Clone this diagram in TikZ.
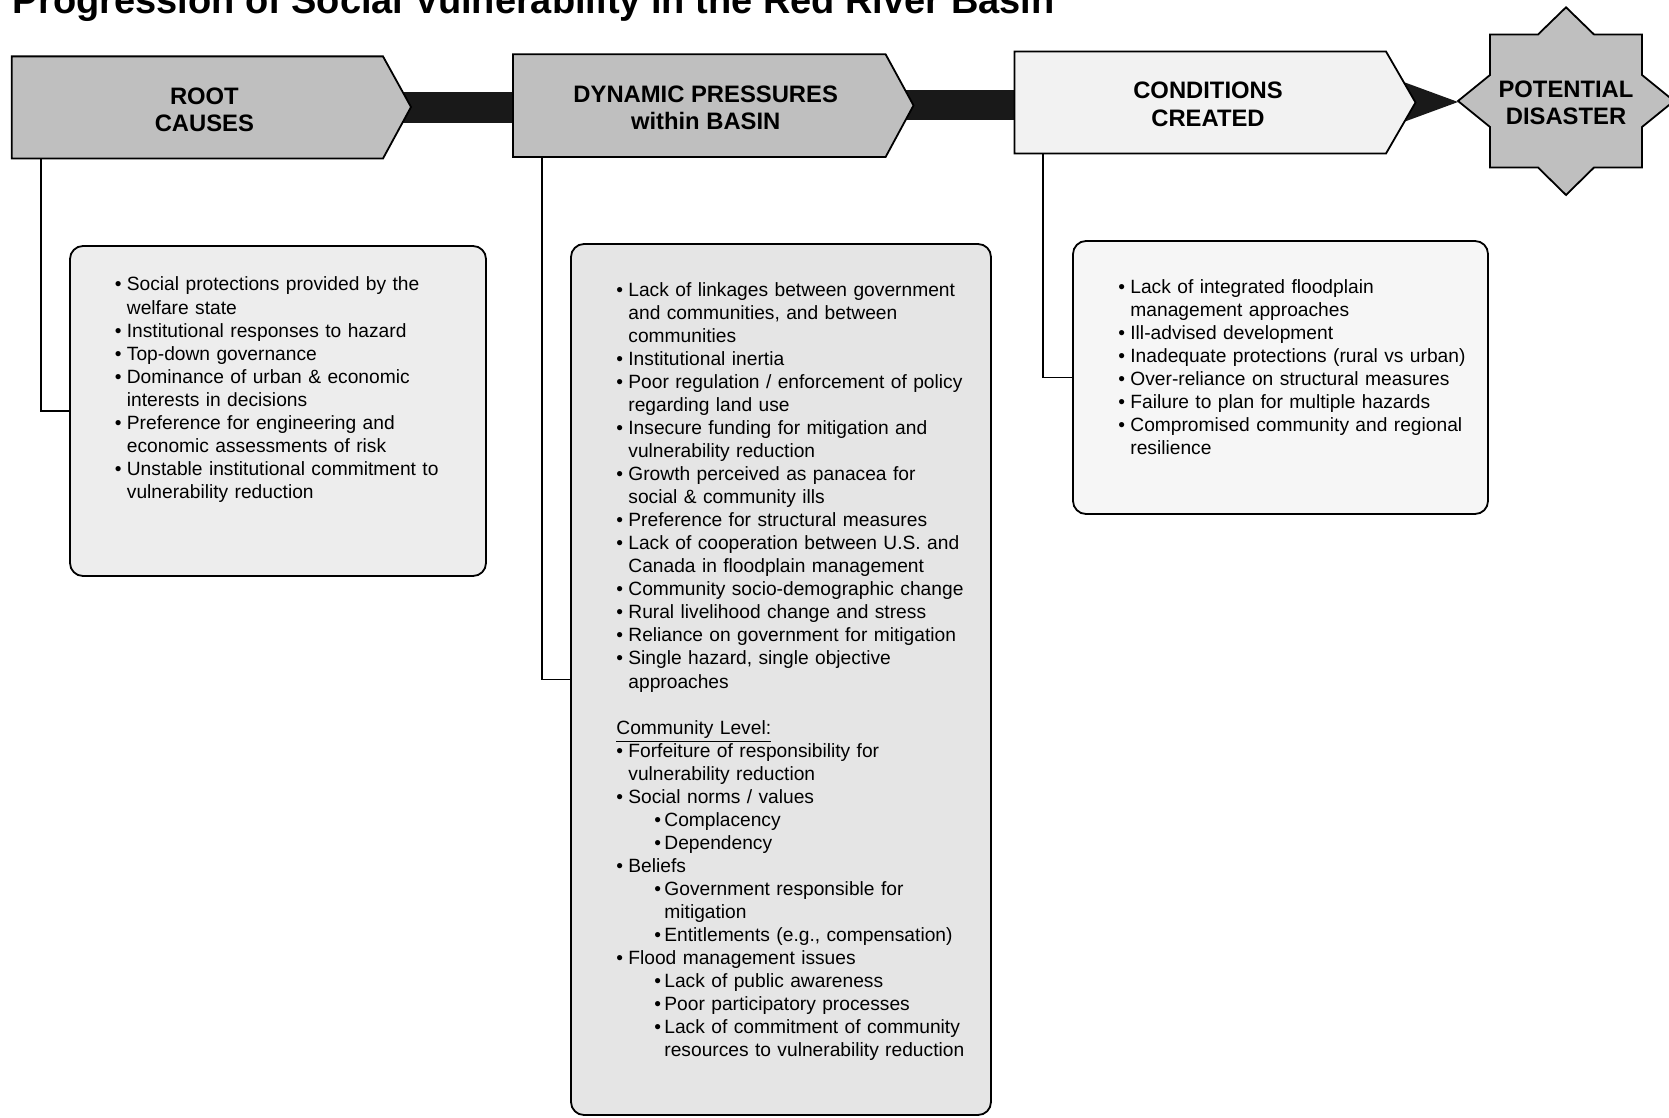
\documentclass[tikz,border=0pt]{standalone}
\usepackage{fontspec}
\setmainfont{Liberation Sans}
\usetikzlibrary{fit}

\definecolor{headgray}{gray}{0.75}
\definecolor{headlight}{gray}{0.95}
\definecolor{barblack}{gray}{0.1}
\definecolor{rootfill}{gray}{0.93}
\definecolor{dynfill}{gray}{0.9}
\definecolor{condfill}{gray}{0.965}

\newcommand{\bul}[1]{\noindent\hangindent=6pt\hangafter=1\makebox[6pt][l]{\textbullet}#1\par}
\newcommand{\subbul}[1]{\noindent\hangindent=24pt\hangafter=1\hspace*{19pt}\makebox[5pt][l]{\textbullet}#1\par}

\tikzset{
  headshape/.style={draw=black, line width=0.9pt, fill=headgray},
  headtext/.style={font=\bfseries\fontsize{11.9}{13.8}\selectfont, align=center, inner sep=0pt},
  infobox/.style={draw=black, line width=0.9pt, rounded corners=6.5pt, inner sep=0pt},
  listtext/.style={font=\fontsize{9.6}{11.53}\selectfont, text width=200pt, align=left, inner sep=0pt, anchor=base west},
  link/.style={line width=0.7pt}
}

\begin{document}
\begin{tikzpicture}[x=0.5pt, y=-0.5pt]
\useasboundingbox (0,0) rectangle (1669,1118);
\fill[white] (0,0) rectangle (1669,1118);

% title
\node[anchor=base west, inner sep=0pt, font=\bfseries\fontsize{19}{22}\selectfont] (title) at (12.5,13.5) {Progression of Social Vulnerability in the Red River Basin};

% dark bars between the headings
\fill[barblack] (383,92.5) rectangle (513,123);
\fill[barblack] (885,90.5) rectangle (1015,120.5);
\fill[barblack] (1390,77) -- (1458,102) -- (1390,127) -- cycle;

% heading arrows
\draw[headshape] (11.7,56.4) -- (383,56.4) -- (411,107) -- (383,158.5) -- (11.7,158.5) -- cycle;
\draw[headshape] (513,54.3) -- (885.6,54.3) -- (913.5,105.4) -- (885.6,157) -- (513,157) -- cycle;
\draw[headshape, fill=headlight] (1014.4,51.5) -- (1386,51.5) -- (1415.5,102.5) -- (1386,153.5) -- (1014.4,153.5) -- cycle;
\coordinate (rootdrop) at (41,158.5);
\coordinate (dyndrop) at (542,157);
\coordinate (conddrop) at (1043,153.5);

\node[headtext] (roottxt) at (204.4,110) {ROOT\\CAUSES};
\node[headtext] (dyntxt) at (705.7,108) {DYNAMIC PRESSURES\\within BASIN};
\node[headtext] (condtxt) at (1208,104.5) {CONDITIONS\\CREATED};

% star
\begin{scope}[shift={(1566,101)}]
  \draw[headshape] (0,-93.7) -- (28,-66.5) -- (76,-66.5) -- (76,-26) -- (108,0) -- (76,26) -- (76,66.5) -- (28,66.5) -- (0,94)
    -- (-28,66.5) -- (-76,66.5) -- (-76,26) -- (-108,0) -- (-76,-26) -- (-76,-66.5) -- (-28,-66.5) -- cycle;
\end{scope}
\node[headtext] (disaster) at (1566,103) {POTENTIAL\\DISASTER};

% boxes
\node[infobox, fill=rootfill, fit={(70,246) (486,576)}] (rootbox) {};
\node[infobox, fill=dynfill, fit={(571,244) (991,1115)}] (dynbox) {};
\node[infobox, fill=condfill, fit={(1073,241) (1488,514)}] (condbox) {};

\draw[link] (rootdrop) |- (rootbox.west);
\draw[link] (dyndrop) |- (dynbox.west);
\draw[link] (conddrop) |- (condbox.west);

\node[listtext] (rootlist) at (114.5,291) {%
\bul{Social protections provided by the\newline welfare state}
\bul{Institutional responses to hazard}
\bul{Top-down governance}
\bul{Dominance of urban \& economic\newline interests in decisions}
\bul{Preference for engineering and\newline economic assessments of risk}
\bul{Unstable institutional commitment to\newline vulnerability reduction}};

\node[listtext] (dynlist) at (616,296) {%
\bul{Lack of linkages between government\newline and communities, and between\newline communities}
\bul{Institutional inertia}
\bul{Poor regulation / enforcement of policy\newline regarding land use}
\bul{Insecure funding for mitigation and\newline vulnerability reduction}
\bul{Growth perceived as panacea for\newline social \& community ills}
\bul{Preference for structural measures}
\bul{Lack of cooperation between U.S. and\newline Canada in floodplain management}
\bul{Community socio-demographic change}
\bul{Rural livelihood change and stress}
\bul{Reliance on government for mitigation}
\bul{Single hazard, single objective\newline approaches}
\vspace{\baselineskip}
\noindent\underline{Community Level:}\par
\bul{Forfeiture of responsibility for\newline vulnerability reduction}
\bul{Social norms / values}
\subbul{Complacency}
\subbul{Dependency}
\bul{Beliefs}
\subbul{Government responsible for\newline mitigation}
\subbul{Entitlements (e.g., compensation)}
\bul{Flood management issues}
\subbul{Lack of public awareness}
\subbul{Poor participatory processes}
\subbul{Lack of commitment of community\newline resources to vulnerability reduction}};

\node[listtext] (condlist) at (1118,293) {%
\bul{Lack of integrated floodplain\newline management approaches}
\bul{Ill-advised development}
\bul{Inadequate protections (rural vs urban)}
\bul{Over-reliance on structural measures}
\bul{Failure to plan for multiple hazards}
\bul{Compromised community and regional\newline resilience}};
\end{tikzpicture}
\end{document}
